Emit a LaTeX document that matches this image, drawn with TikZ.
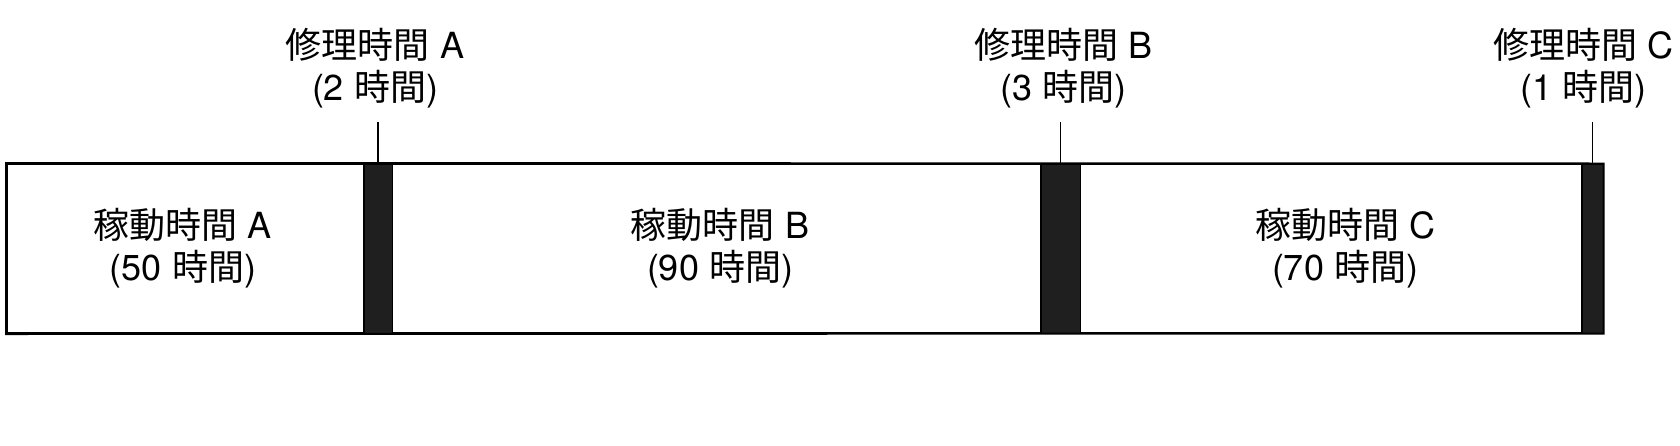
\documentclass[tikz,border=0pt]{standalone}
\usepackage{fontspec}
\setmainfont{TeX Gyre Heros}
\newfontfamily\cjk{Noto Sans CJK JP}
\newcommand{\jp}[1]{{\cjk #1}}
\begin{document}
\begin{tikzpicture}[x=0.5pt,y=-0.5pt,
  runbox/.style={draw=black,line width=1pt,fill=white,inner sep=0pt,minimum height=84.5pt},
  repbar/.style={draw=black,line width=0.5pt,fill=black!88,inner sep=0pt,minimum height=84.5pt},
  lbl/.style={align=center,inner sep=0pt,font=\fontsize{18pt}{21pt}\selectfont},
  tick/.style={line width=0.8pt}]
\useasboundingbox (0,0) rectangle (1680,445);
% running segments
\node[runbox,minimum width=178.5pt] (runA) at (185.5,248.5) {};
\node[runbox,minimum width=324.5pt] (runB) at (716.5,248.5) {};
\node[runbox,minimum width=251pt] (runC) at (1331,248.5) {};
% repair bars
\node[repbar,minimum width=14pt] (barA) at (378,248.5) {};
\node[repbar,minimum width=19.5pt] (barB) at (1060.5,248.5) {};
\node[repbar,minimum width=10.5pt] (barC) at (1592.5,248.5) {};
% outline on top
\draw[line width=1pt] (runA.north west) -- (barC.north east) -- (barC.south east) -- (runA.south west) -- cycle;
% inner labels
\node[lbl] (tA) at (183,248) {\jp{稼動時間} A\\(50 \jp{時間})};
\node[lbl] (tB) at (720,248) {\jp{稼動時間} B\\(90 \jp{時間})};
\node[lbl] (tC) at (1345,248) {\jp{稼動時間} C\\(70 \jp{時間})};
% ticks
\coordinate (kA) at (378,122);
\coordinate (kB) at (1060.5,122);
\coordinate (kC) at (1592.5,122);
\draw[tick] (barA.north) -- (kA);
\draw[tick] (barB.north) -- (kB);
\draw[tick] (barC.north) -- (kC);
% repair labels
\node[lbl] (rA) at (375,68.5) {\jp{修理時間} A\\(2 \jp{時間})};
\node[lbl] (rB) at (1063,68.5) {\jp{修理時間} B\\(3 \jp{時間})};
\node[lbl] (rC) at (1583,68.5) {\jp{修理時間} C\\(1 \jp{時間})};
\end{tikzpicture}
\end{document}
